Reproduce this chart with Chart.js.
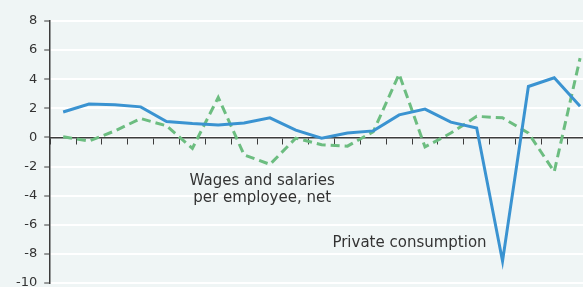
<!DOCTYPE html>
<html>
<head>
<meta charset="utf-8">
<script src="https://cdn.jsdelivr.net/npm/chart.js@4/dist/chart.umd.min.js"></script>
<style>
  html, body { margin: 0; padding: 0; background: #eff5f5; overflow: hidden; }
  #wrap { width: 596px; height: 300px; }
</style>
</head>
<body>
<div id="wrap"><canvas id="chart-canvas"></canvas></div>
<script>
const labels = [
    '2000', '2001', '2002', '2003', '2004', '2005', '2006',
    '2007', '2008', '2009', '2010', '2011', '2012', '2013',
    '2014', '2015', '2016', '2017', '2018', '2019', '2020',
];
const privateConsumption = [
    1.75, 2.3, 2.25, 2.1, 1.1, 0.95, 0.85, 1.0, 1.35, 0.5, -0.05,
    0.3, 0.45, 1.55, 1.95, 1.05, 0.65, -8.5, 3.5, 4.1, 2.15,
];
const wagesNet = [
    0.05, -0.25, 0.45, 1.3, 0.8, -0.75, 2.75, -1.2, -1.85, -0.05, -0.5,
    -0.6, 0.4, 4.35, -0.65, 0.3, 1.45, 1.35, 0.3, -2.35, 5.45,
];
const yTicks = [8, 6, 4, 2, 0, -2, -4, -6, -8, -10];

const axisColor = '#3c3c3c';
const textFont = '"DejaVu Sans", sans-serif';

// text labels placed by category index / value
const notes = [
    { lines: ['Wages and salaries', 'per employee, net'], x: 7.7, y: -3.3 },
    { lines: ['Private consumption'], x: 13.4, y: -7.55 },
];

const notePlugin = {
    id: 'notes',
    afterDatasetsDraw(chart) {
        const ctx = chart.ctx;
        const xs = chart.scales.x, ys = chart.scales.y;
        ctx.save();
        ctx.fillStyle = '#333333';
        ctx.font = '15px ' + textFont;
        ctx.textAlign = 'center';
        ctx.textBaseline = 'alphabetic';
        notes.forEach(n => {
            const px = xs.getPixelForValue(n.x);
            const py = ys.getPixelForValue(n.y);
            n.lines.forEach((t, i) => ctx.fillText(t, px, py + i * 17));
        });
        ctx.restore();
    }
};

const data = {
    labels: labels,
    datasets: [{
        label: 'Private consumption',
        data: privateConsumption,
        borderColor: '#3a93d1',
        borderWidth: 3,
        pointRadius: 0,
        tension: 0,
        order: 1,
    }, {
        label: 'Wages and salaries per employee, net',
        data: wagesNet,
        borderColor: '#6cbd80',
        borderWidth: 3,
        borderDash: [9, 5],
        pointRadius: 0,
        tension: 0,
        order: 2,
    }]
};

const config = {
    type: 'line',
    data,
    options: {
        responsive: true,
        maintainAspectRatio: false,
        animation: false,
        layout: { padding: { top: 21, bottom: 17, left: 9, right: 3 } },
        plugins: { legend: { display: false }, tooltip: { enabled: false } },
        scales: {
            x: {
                position: { y: 0 },
                offset: true,
                grid: {
                    offset: true,
                    drawOnChartArea: false,
                    drawTicks: true,
                    tickLength: 6,
                    tickColor: axisColor,
                    tickWidth: 1,
                },
                border: { color: axisColor, width: 1.5 },
                ticks: { display: false },
            },
            y: {
                min: -10,
                max: 8,
                afterBuildTicks: (s) => { s.ticks = yTicks.map(v => ({ value: v })); },
                grid: {
                    color: '#ffffff',
                    lineWidth: 2,
                    tickColor: axisColor,
                    tickLength: 6,
                    tickWidth: 1,
                },
                border: { color: axisColor, width: 1.5 },
                ticks: {
                    padding: 7,
                    color: '#333333',
                    font: { family: textFont, size: 13 },
                },
            },
        },
    },
    plugins: [notePlugin],
};

let myChart = new Chart(document.getElementById('chart-canvas'), config);
</script>
</body>
</html>
